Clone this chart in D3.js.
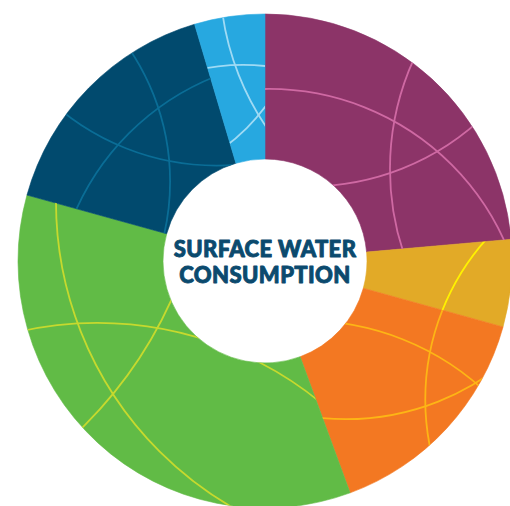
<!DOCTYPE html>
<html>
<head>
<meta charset="utf-8">
<script src="https://cdn.jsdelivr.net/npm/d3@7"></script>
<style>
  html, body { margin: 0; padding: 0; background: #fff; }
  svg { display: block; }
</style>
</head>
<body>
<svg id="chart" width="510" height="506"></svg>
<script>
// Share of surface water consumption by segment (percent of total)
const segments = ["Segment 1", "Segment 2", "Segment 3", "Segment 4", "Segment 5", "Segment 6"];
const shares = [23.6, 5.7, 15.1, 34.9, 16.1, 4.6];
const fillColors = ["#8C3468", "#E2AA27", "#F37822", "#61BB46", "#014A6E", "#27A8E0"];
const lineColors = ["#CF69A3", "#FFF200", "#FDB515", "#C6D92E", "#0A6D96", "#9FDAF4"];
const titleLines = ["SURFACE WATER", "CONSUMPTION"];

const width = 510, height = 506;
const cx = 265, cy = 261;
const outerR = 247, innerR = 102;

// Globe-style ornament: each arc is given by three points on it,
// as offsets from the ring centre on a 247px-radius layout.
const ornamentScale = outerR / 247;
const ornaments = [
  { seg: 0, pts: [[0, -172], [173, -109], [238, -23]] },
  { seg: 0, pts: [[147, -198], [125, -88], [137, -13]] },
  { seg: 0, pts: [[70, -76], [125, -88], [208, -135]] },
  { seg: 1, pts: [[218, -18], [165, 91], [165, 186]] },
  { seg: 2, pts: [[218, -18], [165, 91], [165, 186]] },
  { seg: 2, pts: [[82, 63], [165, 91], [213, 124]] },
  { seg: 2, pts: [[57, 157], [161, 145], [220, 116]] },
  { seg: 3, pts: [[-209, -56], [-152, 133], [-35, 245]] },
  { seg: 3, pts: [[-238, 69], [-175, 62], [50, 137]] },
  { seg: 3, pts: [[-183, 167], [-152, 133], [-95, 42]] },
  { seg: 4, pts: [[-133, -208], [-107, -154], [-97, -48]] },
  { seg: 4, pts: [[-198, -146], [-147, -116], [-32, -96]] },
  { seg: 4, pts: [[-188, -53], [-147, -116], [-58, -181]] },
  { seg: 5, pts: [[-42, -244], [-30, -196], [0, -136]] },
  { seg: 5, pts: [[-58, -193], [-30, -196], [0, -195]] },
  { seg: 5, pts: [[-35, -118], [-8, -144], [0, -154]] }
];

// Circle through three points
function circleFrom(p1, p2, p3) {
  const [ax, ay] = p1, [bx, by] = p2, [qx, qy] = p3;
  const d = 2 * (ax * (by - qy) + bx * (qy - ay) + qx * (ay - by));
  const a2 = ax * ax + ay * ay, b2 = bx * bx + by * by, c2 = qx * qx + qy * qy;
  const ux = (a2 * (by - qy) + b2 * (qy - ay) + c2 * (ay - by)) / d;
  const uy = (a2 * (qx - bx) + b2 * (ax - qx) + c2 * (bx - ax)) / d;
  return { x: ux, y: uy, r: Math.hypot(ax - ux, ay - uy) };
}

const data = segments.map((s, i) => ({ key: s, value: shares[i], i }));

const pie = d3.pie().sort(null).value(d => d.value).startAngle(0).endAngle(2 * Math.PI);
const arc = d3.arc().innerRadius(innerR).outerRadius(outerR);
const arcs = pie(data);

const color = d3.scaleOrdinal().domain(segments).range(fillColors);
const lineColor = d3.scaleOrdinal().domain(segments).range(lineColors);

const svg = d3.select("#chart");
const defs = svg.append("defs");
const g = svg.append("g").attr("transform", `translate(${cx},${cy})`);

defs.selectAll("clipPath")
  .data(arcs)
  .join("clipPath")
  .attr("id", d => `seg-clip-${d.data.i}`)
  .append("path")
  .attr("d", arc);

g.selectAll("path.slice")
  .data(arcs)
  .join("path")
  .attr("class", "slice")
  .attr("d", arc)
  .attr("fill", d => color(d.data.key))
  .attr("stroke", d => color(d.data.key))
  .attr("stroke-width", 0.6);

const orn = g.append("g").attr("class", "ornament");
ornaments.forEach(o => {
  const c = circleFrom(...o.pts.map(p => [p[0] * ornamentScale, p[1] * ornamentScale]));
  orn.append("g")
    .attr("clip-path", `url(#seg-clip-${o.seg})`)
    .append("circle")
    .attr("cx", c.x)
    .attr("cy", c.y)
    .attr("r", c.r)
    .attr("fill", "none")
    .attr("stroke", lineColor(segments[o.seg]))
    .attr("stroke-width", 1.8);
});

const title = g.append("text")
  .attr("text-anchor", "middle")
  .attr("fill", "#0B4A6E")
  .attr("stroke", "#0B4A6E")
  .attr("stroke-width", 0.9)
  .attr("stroke-linejoin", "round")
  .style("font-family", "Lato, 'Open Sans', sans-serif")
  .style("font-weight", 900)
  .style("font-size", "22px")
  .style("letter-spacing", "0.4px");

title.selectAll("tspan")
  .data(titleLines)
  .join("tspan")
  .attr("x", 0)
  .attr("y", (d, i) => -4 + i * 26)
  .text(d => d);
</script>
</body>
</html>
